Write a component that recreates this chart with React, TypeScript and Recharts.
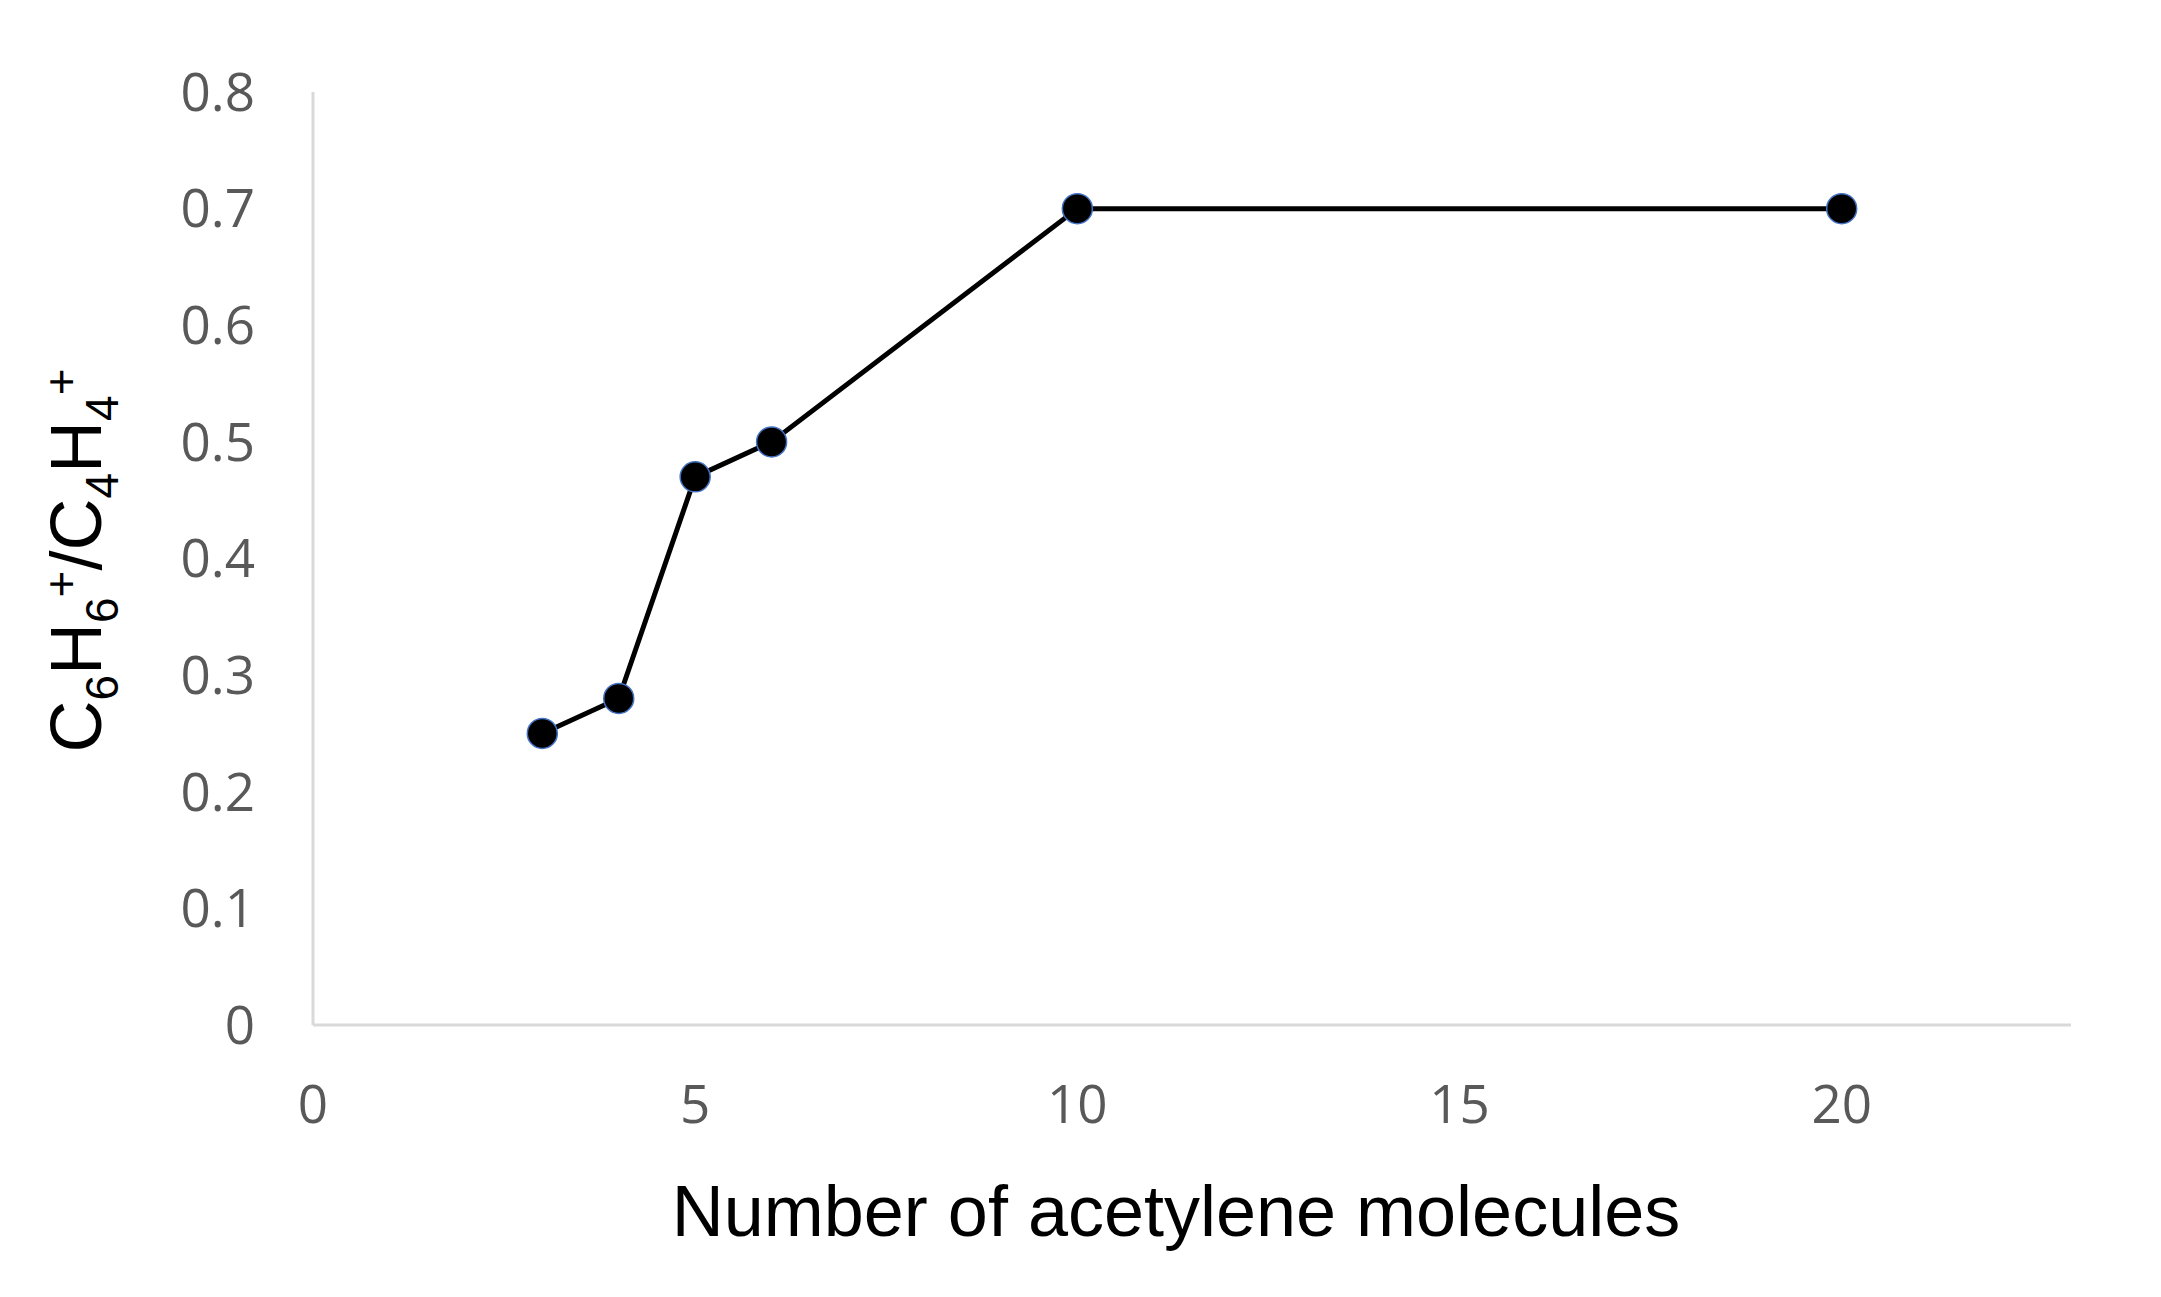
import { LineChart, Line, XAxis, YAxis } from "recharts";

const molecules = [3, 4, 5, 6, 10, 20];
const ratio = [0.25, 0.28, 0.47, 0.5, 0.7, 0.7];

const xTicks = [0, 5, 10, 15, 20];
const yTicks = [0, 0.1, 0.2, 0.3, 0.4, 0.5, 0.6, 0.7, 0.8];
const yTickLabels = ["0", "0.1", "0.2", "0.3", "0.4", "0.5", "0.6", "0.7", "0.8"];

const data = molecules.map((n, i) => ({ n, ratio: ratio[i] }));

const tickStyle = {
  fill: "#595959",
  fontSize: 53,
  fontFamily: "'Open Sans', sans-serif",
};

const XTitle = (props: any) => {
  const vb = props.viewBox;
  return (
    <text
      x={vb.x + vb.width / 2 - 16}
      y={vb.y + 211}
      textAnchor="middle"
      fontFamily="'Liberation Sans', Arial, sans-serif"
      fontSize={72}
      fill="#000"
    >
      Number of acetylene molecules
    </text>
  );
};

const YTitle = (props: any) => {
  const vb = props.viewBox;
  const cx = 101;
  const cy = vb.y + vb.height / 2 + 2;
  const small = 46;
  return (
    <text
      x={cx}
      y={cy}
      transform={`rotate(-90, ${cx}, ${cy})`}
      textAnchor="middle"
      fontFamily="'Liberation Sans', Arial, sans-serif"
      fontSize={72}
      fill="#000"
    >
      <tspan>C</tspan>
      <tspan fontSize={small} dy={17}>6</tspan>
      <tspan dy={-17}>H</tspan>
      <tspan fontSize={small} dy={17}>6</tspan>
      <tspan fontSize={small} dy={-41}>+</tspan>
      <tspan dy={24}>/C</tspan>
      <tspan fontSize={small} dy={17}>4</tspan>
      <tspan dy={-17}>H</tspan>
      <tspan fontSize={small} dy={17}>4</tspan>
      <tspan fontSize={small} dy={-41}>+</tspan>
    </text>
  );
};

export default function App() {
  return (
    <div style={{ position: "absolute", left: 0, top: 0, background: "#fff" }}>
      <LineChart
        width={2161}
        height={1297}
        data={data}
        margin={{ top: 92, right: 90, bottom: 0, left: 0 }}
      >
        <XAxis
          dataKey="n"
          type="number"
          domain={[0, 23]}
          ticks={xTicks}
          allowDataOverflow
          height={272}
          tickLine={false}
          tickSize={0}
          tickMargin={60}
          tick={tickStyle}
          axisLine={{ stroke: "#d9d9d9", strokeWidth: 3 }}
          label={{ content: XTitle }}
        />
        <YAxis
          type="number"
          domain={[0, 0.8]}
          ticks={yTicks}
          width={313}
          tickLine={false}
          tickSize={0}
          tickMargin={58}
          tick={tickStyle}
          tickFormatter={(v: number) => yTickLabels[yTicks.indexOf(v)] ?? String(v)}
          axisLine={{ stroke: "#d9d9d9", strokeWidth: 3 }}
          label={{ content: YTitle }}
        />
        <Line
          dataKey="ratio"
          type="linear"
          stroke="#000"
          strokeWidth={5}
          dot={{ r: 15, fill: "#000", stroke: "#4472C4", strokeWidth: 1.5 }}
          activeDot={false}
          isAnimationActive={false}
        />
      </LineChart>
    </div>
  );
}
